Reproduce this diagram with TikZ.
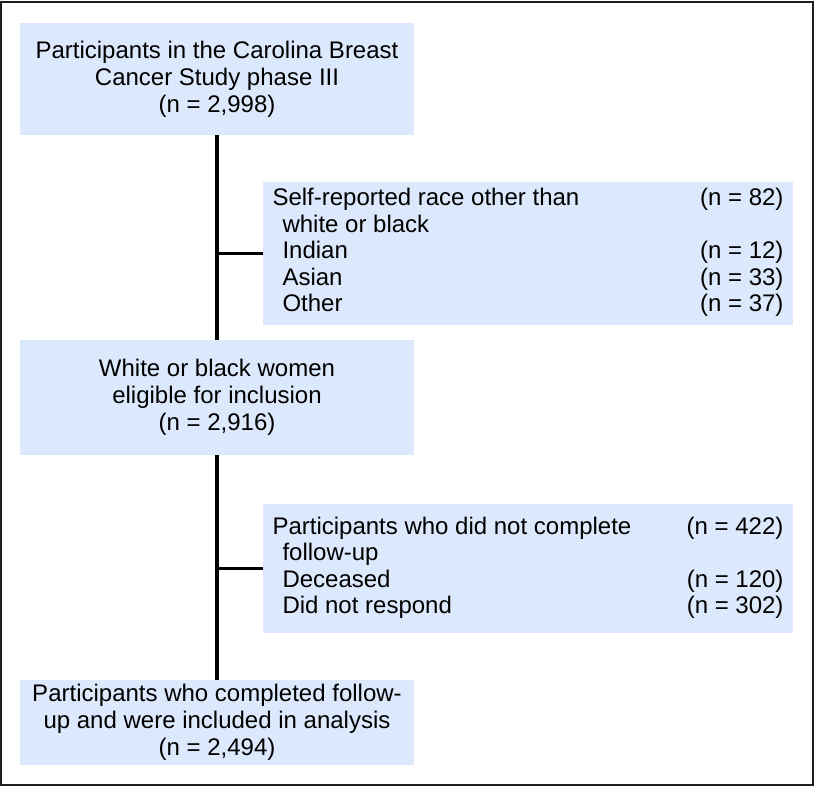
\documentclass[tikz,border=0pt]{standalone}
\usepackage{fontspec}
\setmainfont{Liberation Sans}
\definecolor{boxblue}{RGB}{220,232,251}
\definecolor{framegray}{RGB}{30,30,30}
\begin{document}
\begin{tikzpicture}[x=1pt,y=-1pt,
  mainbox/.style={fill=boxblue, draw=none, inner sep=0pt, minimum width=394pt, align=center, font=\fontsize{24}{27}\selectfont},
  sidebox/.style={fill=boxblue, draw=none, inner sep=0pt, minimum width=530pt, font=\fontsize{24}{26.5}\selectfont},
  conn/.style={line width=3.5pt, draw=black}]
\useasboundingbox (0,0) rectangle (815,786);
\draw[line width=2pt, draw=framegray] (1,2) rectangle (813,785);

\node[mainbox, minimum height=112pt] (box1) at (217,79)
  {Participants in the Carolina Breast\\Cancer Study phase III\\(n = 2,998)};
\node[mainbox, minimum height=115pt] (box2) at (217,397.5)
  {White or black women\\eligible for inclusion\\(n = 2,916)};
\node[mainbox, minimum height=85pt] (box3) at (217,722.5)
  {Participants who completed follow-\\up and were included in analysis\\(n = 2,494)};

\node[sidebox, minimum height=143pt] (side1) at (528,253.5)
  {\begin{tabular*}{511pt}{@{}l@{\extracolsep{\fill}}r@{}}
   Self-reported race other than & (n = 82)\\
   \hspace*{10pt}white or black & \\
   \hspace*{10pt}Indian & (n = 12)\\
   \hspace*{10pt}Asian & (n = 33)\\
   \hspace*{10pt}Other & (n = 37)
   \end{tabular*}};
\node[sidebox, minimum height=129pt] (side2) at (528,568.5)
  {\begin{tabular*}{511pt}{@{}l@{\extracolsep{\fill}}r@{}}
   Participants who did not complete & (n = 422)\\
   \hspace*{10pt}follow-up & \\
   \hspace*{10pt}Deceased & (n = 120)\\
   \hspace*{10pt}Did not respond & (n = 302)
   \end{tabular*}};

\draw[conn] (box1.south) -- (box2.north);
\draw[conn] (box2.south) -- (box3.north);
\draw[conn] (side1.west -| box1.south) -- (side1.west);
\draw[conn] (side2.west -| box2.south) -- (side2.west);
\end{tikzpicture}
\end{document}
